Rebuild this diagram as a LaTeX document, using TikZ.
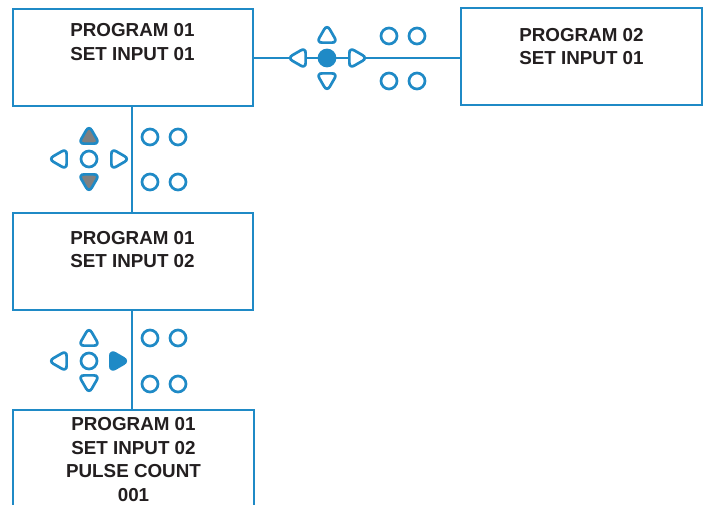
\documentclass[tikz,border=0pt]{standalone}
\usepackage{fontspec}
\setmainfont{Liberation Sans}
\definecolor{keyblue}{HTML}{1F8AC6}
\definecolor{keygray}{HTML}{808080}
\definecolor{screenink}{HTML}{231F20}
\begin{document}
\begin{tikzpicture}[x=1pt,y=-1pt,
  screen/.style={draw=keyblue, line width=2.4pt, fill=white, minimum width=240pt, minimum height=97pt, outer sep=0pt},
  screentext/.style={anchor=north, align=center, inner sep=0pt, font=\fontsize{18.8}{23.4}\selectfont\bfseries, text=screenink},
  link/.style={draw=keyblue, line width=2.4pt},
  arrowkey/.pic={\path[draw=keyblue, line width=2.7pt, pic actions] (-4.95,-6.03) .. controls (-8.01,-6.03) and (-9.23,-3.92) .. (-7.7,-1.27) -- (-2.75,7.31) .. controls (-1.22,9.96) and (1.22,9.96) .. (2.75,7.31) -- (7.7,-1.27) .. controls (9.23,-3.92) and (8.01,-6.03) .. (4.95,-6.03) -- cycle;},
  upkey/.style={rotate=180, fill=white},
  leftkey/.style={rotate=-90, fill=white},
  rightkey/.style={rotate=90, fill=white},
  downkey/.style={fill=white},
  roundkey/.style={circle, minimum size=16pt, inner sep=0pt, outer sep=0pt, draw=keyblue, line width=2.7pt, fill=white}]
\useasboundingbox (0,0) rectangle (704,504);

\node[screen] (screenA) at (133,57.5) {};
\node[screen, minimum width=241pt] (screenB) at (581.5,56.5) {};
\node[screen] (screenC) at (133,261.5) {};
\node[screen, minimum width=241pt] (screenD) at (133.5,458.5) {};

\node[screentext] (textA) at (132.5,23.5) {PROGRAM 01\\SET INPUT 01};
\node[screentext] (textB) at (581.5,28) {PROGRAM 02\\SET INPUT 01};
\node[screentext] (textC) at (132.5,231) {PROGRAM 01\\SET INPUT 02};
\node[screentext] (textD) at (133.5,417.5) {PROGRAM 01\\SET INPUT 02\\PULSE COUNT\\001};

\draw[link] (screenA.east |- 0,58) -- (screenB.west |- 0,58);
\draw[link] (132,0 |- screenA.south) -- (132,0 |- screenC.north);
\draw[link] (132,0 |- screenC.south) -- (132,0 |- screenD.north);

\pic[upkey] (upA) at (327,36.6) {arrowkey};
\pic[leftkey] (leftA) at (299.6,58) {arrowkey};
\node[roundkey, fill=keyblue] (okA) at (327,58) {};
\pic[rightkey] (rightA) at (355.4,58) {arrowkey};
\pic[downkey] (downA) at (327,79.4) {arrowkey};
\node[roundkey] (oneA) at (389,36) {};
\node[roundkey] (twoA) at (417,36) {};
\node[roundkey] (threeA) at (389,81) {};
\node[roundkey] (fourA) at (417,81) {};

\pic[upkey, fill=keygray] (upC) at (89,137.6) {arrowkey};
\pic[leftkey] (leftC) at (60.6,159) {arrowkey};
\node[roundkey] (okC) at (89,159) {};
\pic[rightkey] (rightC) at (117.4,159) {arrowkey};
\pic[downkey, fill=keygray] (downC) at (89,180.4) {arrowkey};
\node[roundkey] (oneC) at (150,137) {};
\node[roundkey] (twoC) at (178,137) {};
\node[roundkey] (threeC) at (150,182) {};
\node[roundkey] (fourC) at (178,182) {};

\pic[upkey] (upD) at (89,339.6) {arrowkey};
\pic[leftkey] (leftD) at (60.6,361) {arrowkey};
\node[roundkey] (okD) at (89,361) {};
\pic[rightkey, fill=keyblue] (rightD) at (116.4,361) {arrowkey};
\pic[downkey] (downD) at (89,381.4) {arrowkey};
\node[roundkey] (oneD) at (150,338) {};
\node[roundkey] (twoD) at (178,338) {};
\node[roundkey] (threeD) at (150,384) {};
\node[roundkey] (fourD) at (178,384) {};
\end{tikzpicture}
\end{document}
